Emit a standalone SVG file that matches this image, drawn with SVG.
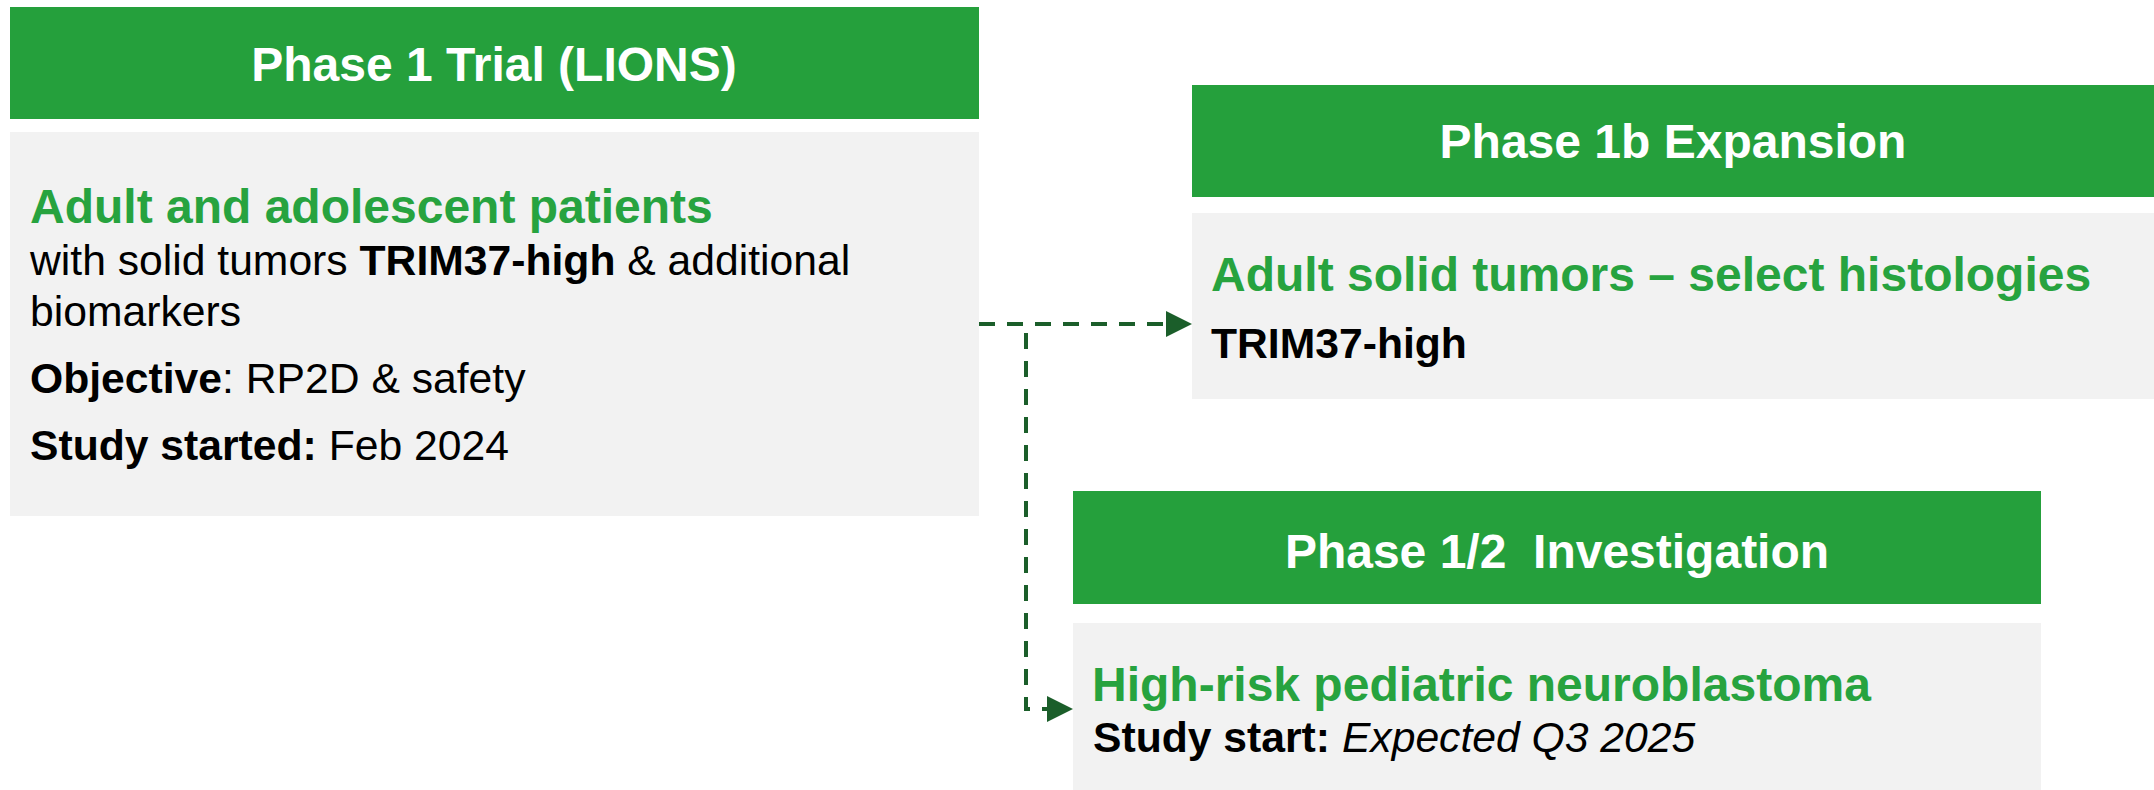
<svg xmlns="http://www.w3.org/2000/svg" width="2154" height="790" viewBox="0 0 2154 790">
<style>
.hdr{fill:#25a03c}
.body{fill:#f2f2f2}
.ht{font-family:"Liberation Sans",Arial,sans-serif;font-weight:bold;font-size:48px;fill:#ffffff;text-anchor:middle;white-space:pre}
.gt{font-family:"Liberation Sans",Arial,sans-serif;font-weight:bold;font-size:48px;fill:#27a33f}
.bt{font-family:"Liberation Sans",Arial,sans-serif;font-size:42.67px;fill:#000000}
.b{font-weight:bold}
.i{font-style:italic}
.conn{fill:none;stroke:#1b5e2a;stroke-width:4;stroke-dasharray:16 12}
</style>
<defs>
<marker id="arrow" markerUnits="userSpaceOnUse" markerWidth="26" markerHeight="26" refX="14" refY="13" orient="auto" overflow="visible">
<path d="M0,0 L26,13 L0,26 Z" fill="#1b5e2a"/>
</marker>
</defs>
<g id="node-phase1">
<rect class="hdr" x="10" y="7" width="969" height="112"/>
<text class="ht" x="494" y="81">Phase 1 Trial (LIONS)</text>
<rect class="body" x="10" y="132" width="969" height="384"/>
<text class="gt" x="30" y="223">Adult and adolescent patients</text>
<text class="bt" x="30" y="275">with solid tumors <tspan class="b">TRIM37-high</tspan> &amp; additional</text>
<text class="bt" x="30" y="326">biomarkers</text>
<text class="bt" x="30" y="393"><tspan class="b">Objective</tspan>: RP2D &amp; safety</text>
<text class="bt" x="30" y="460"><tspan class="b">Study started:</tspan> Feb 2024</text>
</g>
<g id="node-phase1b">
<rect class="hdr" x="1192" y="85" width="962" height="112"/>
<text class="ht" x="1673" y="158">Phase 1b Expansion</text>
<rect class="body" x="1192" y="213" width="962" height="186"/>
<text class="gt" x="1211" y="291">Adult solid tumors – select histologies</text>
<text class="bt b" x="1211" y="358">TRIM37-high</text>
</g>
<g id="node-phase12">
<rect class="hdr" x="1073" y="491" width="968" height="113"/>
<text class="ht" x="1557" y="568">Phase 1/2  Investigation</text>
<rect class="body" x="1073" y="623" width="968" height="167"/>
<text class="gt" x="1092" y="701">High-risk pediatric neuroblastoma</text>
<text class="bt" x="1093" y="752"><tspan class="b">Study start:</tspan> <tspan class="i">Expected Q3 2025</tspan></text>
</g>
<g id="connectors">
<path class="conn" d="M979,324 H1180" marker-end="url(#arrow)"/>
<path class="conn" d="M1026,333 V709 H1061" marker-end="url(#arrow)"/>
</g>
</svg>
